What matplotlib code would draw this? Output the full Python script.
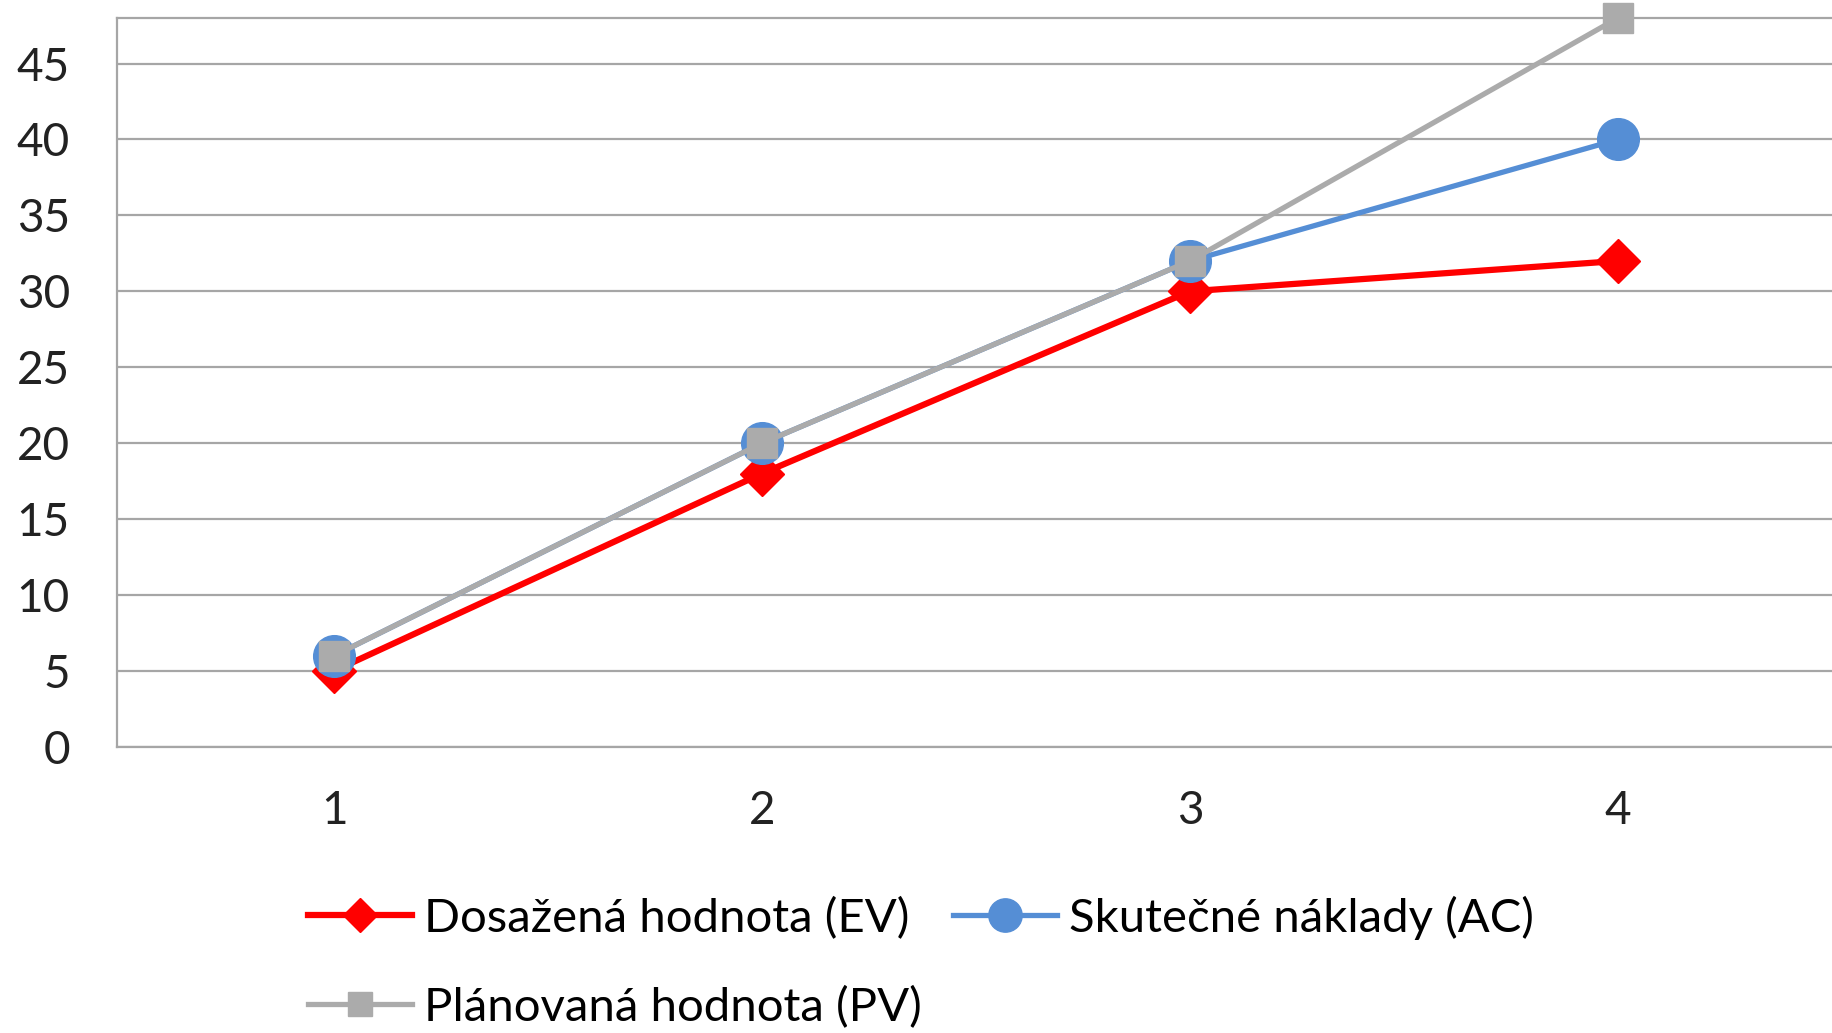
from matplotlib import pyplot as plt

# data
periods = [1, 2, 3, 4]
ev = [5, 18, 30, 32]   # Dosažená hodnota
ac = [6, 20, 32, 40]   # Skutečné náklady
pv = [6, 20, 32, 48]   # Plánovaná hodnota
y_ticks = [0, 5, 10, 15, 20, 25, 30, 35, 40, 45]

plt.rcParams['font.family'] = ['Lato', 'DejaVu Sans']

fig = plt.figure(figsize=(18.32, 10.33), dpi=100)
ax = fig.add_axes([0.0639, 0.277, 0.9361, 0.7056])

# series, EV first so PV sits on top
l_ev, = ax.plot(periods, ev, color='#FF0000', linewidth=4.5, marker='D', markersize=22,
                label='Dosažená hodnota (EV)', zorder=3, clip_on=False)
l_ac, = ax.plot(periods, ac, color='#558ED5', linewidth=3.8, marker='o', markersize=30,
                label='Skutečné náklady (AC)', zorder=4, clip_on=False)
l_pv, = ax.plot(periods, pv, color='#ABABAB', linewidth=3.8, marker='s', markersize=21,
                label='Plánovaná hodnota (PV)', zorder=5, clip_on=False)

ax.set_xlim(0.493, 4.5)
ax.set_ylim(0, 48)
ax.set_xticks(periods)
ax.set_yticks(y_ticks)
ax.tick_params(axis='both', length=0, labelsize=33, colors='#222222')
ax.tick_params(axis='x', pad=31)
ax.tick_params(axis='y', pad=34)

# gridlines and frame
ax.grid(axis='y', color='#A6A6A6', linewidth=1.6)
ax.set_axisbelow(True)
for side in ['left', 'bottom', 'top']:
    ax.spines[side].set_color('#A6A6A6')
    ax.spines[side].set_linewidth(1.6)
ax.spines['right'].set_visible(False)

# legend in two rows: EV, AC / PV
fig.legend([l_ev, l_pv, l_ac],
           ['Dosažená hodnota (EV)', 'Plánovaná hodnota (PV)', 'Skutečné náklady (AC)'],
           ncol=2, loc='lower left', bbox_to_anchor=(0.145, -0.037), frameon=False,
           fontsize=34, markerscale=0.8, handlelength=2.2, handletextpad=0.25,
           columnspacing=0.67, labelspacing=0.97)

plt.savefig('out.png')
